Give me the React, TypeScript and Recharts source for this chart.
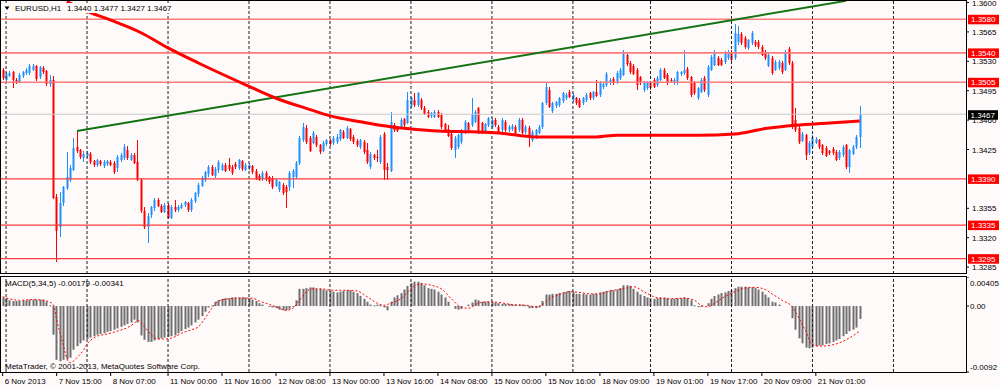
import React from "react";
import { ComposedChart, Bar, Line, XAxis, YAxis, ReferenceLine } from "recharts";

// Prices are in pips above 1.3000 (467 = 1.3467).
// Each row: [open, high, low, close, MACD histogram in units of 0.0001]
const nov06 = [[520, 522, 508, 510, 12]];
const nov07 = [
  [508, 517, 506, 515, 11], [513, 518, 511, 516, 8], [517, 519, 498, 507, 7], [508, 510, 503, 505, 7],
  [506, 516, 504, 514, 7], [512, 519, 510, 517, 8], [516, 522, 514, 520, 8], [516, 527, 514, 524, 9],
  [520, 527, 519, 525, 9], [524, 526, 507, 509, 9], [511, 525, 509, 523, 9], [522, 524, 515, 517, 9],
  [518, 520, 501, 503, 6], [503, 514, 499, 508, 1], [508, 512, 366, 368, -40], [368, 372, 291, 328, -75],
  [332, 374, 321, 361, -77], [361, 382, 358, 380, -75], [379, 422, 377, 392, -74], [389, 406, 386, 403, -72],
  [401, 439, 399, 427, -61], [428, 447, 421, 423, -56], [424, 426, 414, 416, -52], [415, 423, 410, 420, -48],
];
const nov08 = [
  [417, 423, 415, 421, -46], [420, 422, 408, 410, -44], [411, 413, 404, 406, -42], [406, 414, 404, 412, -40],
  [411, 413, 405, 407, -39], [405, 413, 403, 410, -38], [407, 413, 405, 411, -36], [410, 412, 405, 407, -35],
  [409, 411, 396, 398, -33], [403, 418, 398, 416, -31], [412, 421, 410, 418, -29], [415, 431, 412, 428, -27],
  [425, 429, 413, 415, -25], [413, 421, 411, 419, -23], [419, 421, 408, 410, -19], [410, 436, 387, 389, -23],
  [389, 391, 350, 352, -41], [352, 356, 330, 333, -47], [333, 350, 314, 346, -50], [346, 358, 344, 356, -50],
  [355, 367, 352, 365, -48], [365, 367, 356, 358, -46], [358, 360, 349, 351, -45], [351, 361, 349, 359, -44],
];
const nov11 = [
  [359, 361, 342, 344, -43], [344, 359, 342, 357, -42], [357, 365, 351, 353, -41], [353, 359, 351, 357, -38],
  [356, 361, 354, 359, -35], [358, 364, 356, 362, -32], [361, 363, 351, 353, -30], [353, 367, 351, 365, -27],
  [364, 375, 361, 373, -23], [372, 385, 369, 383, -19], [382, 393, 380, 391, -14], [389, 400, 386, 398, -8],
  [396, 406, 392, 404, -2], [404, 406, 393, 395, 1], [394, 404, 391, 402, 6], [400, 413, 397, 410, 8],
  [401, 409, 399, 407, 10], [407, 409, 398, 400, 11], [406, 415, 399, 401, 11], [404, 406, 395, 397, 12],
  [408, 410, 402, 404, 12], [403, 414, 401, 412, 12], [411, 413, 400, 402, 12], [401, 409, 399, 407, 12],
];
const nov12 = [
  [403, 409, 401, 407, 11], [405, 407, 396, 398, 9], [400, 402, 389, 391, 7], [394, 396, 387, 389, 4],
  [390, 399, 388, 397, 2], [397, 399, 388, 390, 0], [392, 394, 384, 386, -1], [391, 393, 378, 380, -2],
  [382, 391, 380, 389, -3], [377, 388, 375, 386, -5], [383, 385, 371, 373, -6], [380, 383, 355, 374, -6],
  [380, 399, 376, 397, -4], [392, 402, 379, 399, -1], [392, 411, 390, 409, 8], [409, 441, 407, 439, 24],
  [436, 456, 434, 452, 24], [451, 454, 432, 434, 25], [439, 441, 422, 424, 26], [433, 447, 431, 445, 26],
  [440, 442, 428, 430, 24], [430, 432, 420, 422, 24], [424, 435, 422, 433, 23], [431, 438, 429, 436, 22],
];
const nov13 = [
  [436, 438, 429, 431, 21], [433, 441, 430, 439, 20], [434, 443, 432, 440, 19], [437, 450, 435, 448, 20],
  [446, 448, 437, 439, 21], [439, 453, 437, 451, 22], [449, 451, 435, 437, 22], [440, 442, 432, 434, 20],
  [435, 437, 428, 430, 18], [428, 438, 426, 436, 14], [434, 436, 420, 422, 10], [424, 433, 408, 410, 6],
  [404, 422, 402, 420, 2], [418, 420, 412, 414, 1], [416, 424, 410, 415, 2], [410, 442, 408, 440, 1],
  [444, 446, 389, 401, -2], [404, 409, 389, 400, -6], [400, 470, 398, 458, 6], [454, 456, 446, 448, 12],
  [451, 453, 446, 448, 15], [451, 462, 449, 460, 18], [461, 463, 452, 454, 23], [457, 493, 455, 484, 28],
];
const nov14 = [
  [476, 488, 474, 486, 32], [484, 492, 476, 478, 34], [478, 494, 476, 492, 34], [484, 486, 472, 474, 32],
  [475, 477, 466, 468, 29], [470, 472, 462, 464, 25], [464, 470, 462, 468, 24], [464, 472, 462, 470, 23],
  [470, 472, 462, 464, 20], [466, 468, 450, 452, 16], [455, 457, 446, 448, 12], [450, 454, 440, 442, 6],
  [444, 446, 425, 427, 0], [425, 441, 415, 439, -4], [428, 444, 426, 442, -5], [434, 450, 432, 448, -4],
  [445, 460, 443, 458, 0], [456, 458, 446, 448, 2], [454, 486, 452, 466, 5], [458, 472, 456, 470, 9],
  [474, 476, 444, 446, 8], [456, 458, 443, 445, 6], [447, 457, 445, 455, 6], [454, 464, 452, 462, 6],
];
const nov15 = [
  [452, 462, 450, 460, 6], [460, 462, 452, 454, 5], [452, 454, 444, 446, 4], [448, 462, 446, 460, 3],
  [458, 460, 446, 448, 3], [448, 454, 446, 452, 3], [449, 455, 447, 453, 2], [452, 454, 443, 445, 2],
  [448, 462, 446, 460, 2], [460, 462, 443, 445, 2], [446, 454, 444, 452, 1], [451, 453, 428, 439, -3],
  [436, 448, 434, 446, -3], [440, 450, 438, 448, -3], [445, 454, 443, 452, -2], [451, 482, 449, 480, 7],
  [480, 504, 478, 499, 16], [496, 500, 474, 476, 16], [470, 482, 468, 480, 17], [476, 483, 474, 481, 17],
  [478, 488, 476, 486, 18], [482, 494, 480, 492, 19], [486, 492, 484, 490, 20], [494, 496, 486, 488, 21],
];
const nov18 = [
  [484, 492, 482, 490, 20], [486, 488, 478, 480, 17], [484, 486, 474, 476, 17], [480, 488, 478, 486, 17],
  [484, 492, 482, 490, 16], [492, 494, 484, 486, 16], [486, 495, 484, 493, 17], [494, 508, 487, 489, 17],
  [490, 506, 488, 504, 19], [499, 505, 497, 503, 20], [502, 517, 500, 515, 21], [504, 510, 502, 508, 22],
  [509, 511, 502, 504, 22], [505, 518, 503, 516, 23], [510, 522, 508, 520, 25], [514, 543, 512, 540, 29],
  [537, 539, 524, 526, 29], [528, 530, 515, 517, 28], [525, 527, 514, 516, 24], [520, 522, 496, 502, 20],
  [511, 513, 502, 504, 16], [496, 506, 494, 504, 14], [498, 507, 496, 505, 12],
];
const nov19 = [
  [504, 506, 496, 498, 11], [508, 510, 498, 500, 10], [502, 512, 500, 510, 11], [508, 522, 506, 520, 12],
  [520, 522, 509, 511, 12], [514, 516, 502, 504, 11], [508, 510, 505, 507, 10], [504, 510, 502, 508, 10],
  [504, 519, 502, 517, 11], [515, 519, 513, 517, 11], [516, 543, 514, 520, 12], [521, 523, 508, 510, 11],
  [511, 513, 488, 490, 8], [504, 506, 490, 492, 1], [486, 500, 484, 498, -1], [494, 510, 492, 508, -1],
  [510, 512, 494, 496, 0], [490, 526, 488, 523, 4], [520, 537, 518, 535, 10], [526, 543, 524, 541, 14],
  [534, 536, 524, 526, 16], [532, 534, 524, 526, 18], [529, 542, 527, 540, 19], [534, 543, 532, 541, 21],
];
const nov20 = [
  [541, 543, 530, 532, 22], [534, 575, 532, 564, 25], [552, 572, 550, 562, 27], [563, 565, 550, 552, 27],
  [558, 560, 545, 547, 27], [546, 557, 544, 555, 26], [552, 566, 550, 564, 26], [553, 555, 547, 549, 25],
  [553, 555, 545, 547, 23], [547, 549, 536, 538, 20], [541, 543, 532, 534, 16], [525, 540, 523, 538, 12],
  [534, 536, 514, 516, 6], [520, 531, 518, 529, 5], [522, 531, 520, 529, 2], [528, 530, 515, 517, 0],
  [520, 543, 518, 540, 0], [545, 547, 526, 528, 0], [528, 530, 450, 452, -17], [460, 475, 446, 448, -33],
  [451, 453, 432, 434, -45], [436, 446, 434, 444, -52], [442, 444, 413, 418, -58], [421, 435, 419, 433, -59],
];
const nov21 = [
  [428, 442, 426, 440, -58], [433, 440, 431, 438, -56], [436, 438, 426, 428, -55], [430, 432, 419, 421, -55],
  [427, 429, 416, 418, -53], [423, 425, 419, 421, -52], [426, 428, 419, 421, -50], [422, 424, 411, 413, -48],
  [415, 424, 413, 422, -46], [418, 430, 416, 428, -42], [430, 432, 402, 404, -39], [404, 426, 397, 424, -35],
  [420, 430, 418, 428, -33], [428, 442, 426, 440, -30], [440, 477, 427, 467, -18],
];

// Moving average (red thick line) read at bar indices: [bar, pips]
const maPoints = [
  [19, 601], [26, 588], [32, 579], [41, 564], [49, 546], [58, 528], [72, 502], [81, 486], [90, 474],
  [97, 465], [106, 458], [115, 452], [121, 449.5], [129, 447], [139, 446], [147, 444.7], [158, 440],
  [176, 440], [182, 442], [206, 442], [217, 443.5], [226, 450], [235, 454], [245, 456.6], [254, 459],
];
// MACD signal line: [bar, value in 0.0001]
const signalPoints = [
  [0, 13], [2, 10], [5, 8], [9, 9], [13, 7], [15, 2], [16, -19], [18, -55], [19, -73], [20, -79], [22, -72],
  [24, -61], [25, -53], [26, -48], [28, -42], [31, -39], [34, -35], [37, -30], [39, -24], [40, -20], [42, -29],
  [44, -40], [46, -46], [48, -46], [51, -43], [53, -38], [56, -33], [58, -29], [60, -17], [62, -3], [64, 7],
  [67, 10], [70, 11], [74, 11], [76, 7], [78, 4], [81, -1], [84, -6], [86, -3], [88, 8], [90, 20], [92, 24],
  [94, 24], [98, 22], [102, 22], [105, 21], [108, 13], [111, 4], [113, 1], [115, 4], [118, 10], [121, 24],
  [124, 31], [127, 29], [130, 24], [133, 10], [136, -2], [138, -3], [141, 4], [144, 6], [147, 5], [151, 2],
  [155, 1], [158, -1], [160, 2], [162, 10], [165, 16], [168, 20], [171, 19], [174, 17], [177, 17], [180, 21],
  [184, 24], [187, 27], [190, 20], [193, 13], [197, 10], [202, 11], [205, 8], [207, 1], [209, -1], [211, 4],
  [214, 13], [217, 20], [220, 25], [223, 26], [226, 23], [228, 17], [231, 8], [234, -1], [236, -17],
  [238, -35], [240, -54], [242, -56], [246, -54], [250, -47], [254, -35],
];

const trendline = [[22, 447], [250, 602]];
const priceAxisTicks = [600, 565, 530, 495, 460, 425, 390, 355, 320, 285];
const priceLevels = [580, 540, 505, 390, 335, 295];
const dayStartBars = [1, 25, 49, 73, 97, 121, 145, 169, 192, 216, 240, 264];
const timeTickBars = [0, 16, 32, 49, 65, 81, 97, 113, 129, 145, 161, 177, 193, 209, 225, 241];
const timeTickText = [
  "6 Nov 2013", "7 Nov 15:00", "8 Nov 07:00", "11 Nov 00:00", "11 Nov 16:00", "12 Nov 08:00",
  "13 Nov 00:00", "13 Nov 16:00", "14 Nov 08:00", "15 Nov 00:00", "15 Nov 16:00", "18 Nov 09:00",
  "19 Nov 01:00", "19 Nov 17:00", "20 Nov 09:00", "21 Nov 01:00",
];
const macdAxisValues = [0.00405, 0, -0.0092];
const macdAxisText = ["0.00405", "0.00", "-0.0092"];
const macdLegendValues = ["-0.00179", "-0.00341"];
const symbolName = "EURUSD,H1";
const copyright = "MetaTrader, \u00a9 2001-2013, MetaQuotes Software Corp.";

const emptySlotsRight = 31;

// ---------------------------------------------------------------------------
const BG = "#fffafa";
const FONT = "'Liberation Sans', Arial, sans-serif";
const FS = 8;
const BULL = "#1e90ff";
const BEAR = "#ff0000";

const P = (v: number) => Number((1.3 + v / 10000).toFixed(6));

const bars: number[][] = [nov06, nov07, nov08, nov11, nov12, nov13, nov14, nov15, nov18, nov19, nov20, nov21].flat();
const last = bars[bars.length - 1];
const currentPip = last[3];
const maMap = new Map(maPoints.map(([k, v]) => [k, v]));
const sigMap = new Map(signalPoints.map(([k, v]) => [k, v]));

const data: any[] = [];
for (let k = 0; k < bars.length + emptySlotsRight; k++) {
  const row: any = { k };
  const b = bars[k];
  if (b) {
    row.o = P(b[0]); row.h = P(b[1]); row.l = P(b[2]); row.c = P(b[3]);
    row.range = [row.l, row.h];
    row.macd = b[4] / 10000;
  }
  if (maMap.has(k)) row.ma = P(maMap.get(k) as number);
  if (sigMap.has(k)) row.signal = (sigMap.get(k) as number) / 10000;
  data.push(row);
}

const MAIN_H = 274;
const MACD_TOP = 277;
const MACD_PLOT_H = 95;
const AXIS_W = 34;
const mainDomain = [1.36 - (MAIN_H - 2.5) / 8400, 1.36 + 2.5 / 8400];

const Candle = (props: any) => {
  const { x, y, width, height, payload } = props;
  if (!payload || payload.o == null) return null;
  const { o, h, l, c } = payload;
  const top = Math.min(y, y + height);
  const hh = Math.abs(height);
  const span = h - l;
  const py = (p: number) => (span > 0 ? top + ((h - p) / span) * hh : top);
  const cx = x + width / 2;
  const col = c >= o ? BULL : BEAR;
  const yo = py(o);
  const yc = py(c);
  const bt = Math.round(Math.min(yo, yc));
  const bh = Math.max(1, Math.round(Math.abs(yc - yo)));
  const wx = Math.floor(cx) + 0.5;
  return (
    <g>
      <line x1={wx} x2={wx} y1={Math.round(top)} y2={Math.round(top + Math.max(hh, 1))} stroke={col} strokeWidth={1} />
      <rect x={Math.floor(cx) - 0.5} y={bt} width={2} height={bh} fill={col} />
    </g>
  );
};

const MacdBar = (props: any) => {
  const { x, y, width, height } = props;
  if (height == null || isNaN(y)) return null;
  const top = Math.min(y, y + height);
  const hh = Math.abs(height);
  if (hh < 0.3) return null;
  const cx = x + width / 2;
  return <rect x={Math.floor(cx) - 0.5} y={top} width={2} height={Math.max(1, hh)} fill="#6f6f6f" />;
};

const levelSet = new Set(priceLevels);

const PriceTick = (props: any) => {
  const { x, y, payload } = props;
  const v = Math.round((payload.value - 1.3) * 10000);
  const label = payload.value.toFixed(4);
  if (levelSet.has(v)) {
    return (
      <g>
        <rect x={x + 2} y={y - 4.5} width={31} height={9.5} fill="#ff0000" />
        <text x={x + 5} y={y + 3} fontSize={FS} fontFamily={FONT} fill="#ffffff">{label}</text>
      </g>
    );
  }
  if (v === currentPip) {
    return (
      <g>
        <rect x={x + 2} y={y - 4} width={30} height={9.5} fill="#000000" />
        <text x={x + 4.5} y={y + 3.5} fontSize={FS} fontFamily={FONT} fill="#ffffff">{label}</text>
      </g>
    );
  }
  return (
    <g>
      <line x1={x} x2={x + 3} y1={y} y2={y} stroke="#000" />
      <text x={x + 6} y={y + 3} fontSize={FS} fontFamily={FONT} fill="#000">{label}</text>
    </g>
  );
};

const MacdTick = (props: any) => {
  const { x, y, payload } = props;
  const i = macdAxisValues.indexOf(payload.value);
  const dy = y < 10 ? 6 : y > MACD_PLOT_H - 10 ? -5 : 0;
  return (
    <g>
      <line x1={x} x2={x + 3} y1={y} y2={y} stroke="#000" />
      <text x={x + 4} y={y + dy + 3} fontSize={FS} fontFamily={FONT} fill="#000">{macdAxisText[i]}</text>
    </g>
  );
};

const TimeTick = (props: any) => {
  const { x, y, payload } = props;
  const i = timeTickBars.indexOf(payload.value);
  return (
    <g>
      <line x1={x} x2={x} y1={y} y2={y + 4} stroke="#000" />
      <text x={x + 2} y={y + 12} fontSize={FS} fontFamily={FONT} fill="#000">{timeTickText[i]}</text>
    </g>
  );
};

const priceTicks = [
  ...priceAxisTicks.filter((v) => !levelSet.has(v)).map(P),
  P(currentPip),
  ...priceLevels.map(P),
];

export default function App() {
  return (
    <div style={{ position: "fixed", left: 0, top: 0, width: 1000, height: 388, background: BG, overflow: "hidden" }}>
      <div style={{ position: "absolute", left: 0, top: 0 }}>
        <ComposedChart width={1000} height={MAIN_H} data={data} margin={{ top: 0, right: 0, bottom: 0, left: 1 }} barCategoryGap={0}>
          <XAxis dataKey="k" type="category" hide />
          <YAxis
            orientation="right"
            width={AXIS_W}
            domain={mainDomain}
            allowDataOverflow
            ticks={priceTicks}
            interval={0}
            tick={<PriceTick />}
            axisLine={false}
            tickLine={false}
            tickSize={0}
            tickMargin={0}
          />
          {dayStartBars.map((k) => (
            <ReferenceLine key={"g" + k} x={k} stroke="#202020" strokeDasharray="3 2" />
          ))}
          <ReferenceLine y={P(currentPip)} stroke="#c8c8c8" strokeWidth={1} />
          {priceLevels.map((v) => (
            <ReferenceLine
              key={"l" + v}
              y={P(v)}
              stroke={v > currentPip ? "#ff7a7a" : "#ff3a3a"}
              strokeWidth={v > currentPip ? 1.6 : 1.2}
            />
          ))}
          <ReferenceLine
            segment={[
              { x: trendline[0][0], y: P(trendline[0][1]) },
              { x: trendline[1][0], y: P(trendline[1][1]) },
            ]}
            stroke="#137313"
            strokeWidth={2}
          />
          <Bar dataKey="range" barSize={2} shape={<Candle />} isAnimationActive={false} />
          <Line
            dataKey="ma"
            type="monotone"
            stroke="#ff0000"
            strokeWidth={3}
            dot={false}
            activeDot={false}
            connectNulls
            isAnimationActive={false}
          />
        </ComposedChart>
      </div>
      <div style={{ position: "absolute", left: 0, top: MACD_TOP }}>
        <ComposedChart width={1000} height={MACD_PLOT_H + 16} data={data} margin={{ top: 0, right: 0, bottom: 0, left: 1 }} barCategoryGap={0}>
          <XAxis
            dataKey="k"
            type="category"
            ticks={timeTickBars}
            interval={0}
            tick={<TimeTick />}
            axisLine={false}
            tickLine={false}
            tickSize={0}
            tickMargin={0}
            height={16}
          />
          <YAxis
            orientation="right"
            width={AXIS_W}
            domain={[-0.0092, 0.00405]}
            allowDataOverflow
            ticks={macdAxisValues}
            interval={0}
            tick={<MacdTick />}
            axisLine={false}
            tickLine={false}
            tickSize={0}
            tickMargin={0}
          />
          {dayStartBars.map((k) => (
            <ReferenceLine key={"mg" + k} x={k} stroke="#202020" strokeDasharray="3 2" />
          ))}
          <Bar dataKey="macd" barSize={2} shape={<MacdBar />} isAnimationActive={false} />
          <Line
            dataKey="signal"
            type="monotone"
            stroke="#ff0000"
            strokeWidth={1}
            strokeDasharray="2 2"
            dot={false}
            activeDot={false}
            connectNulls
            isAnimationActive={false}
          />
        </ComposedChart>
      </div>
      <svg
        width={1000}
        height={388}
        style={{ position: "absolute", left: 0, top: 0, pointerEvents: "none" }}
        fontFamily={FONT}
        fontSize={FS}
      >
        <rect x={0.5} y={0.5} width={966} height={MAIN_H - 1} fill="none" stroke="#000" />
        <rect x={0.5} y={MACD_TOP - 0.5} width={966} height={MACD_PLOT_H + 1} fill="none" stroke="#000" />
        <rect x={2} y={3} width={168} height={10} fill={BG} />
        <path d="M4.5 6.5 L9.5 6.5 L7 10 Z" fill="#000" />
        <text x={15} y={11} fill="#000">{symbolName}</text>
        <text x={67} y={11} fill="#000">
          {[last[0], last[1], last[2], last[3]].map((v) => P(v).toFixed(4)).join(" ")}
        </text>
        <text x={5} y={286} fill="#000">{`MACD(5,34,5) ${macdLegendValues.join(" ")}`}</text>
        <text x={5} y={369} fill="#000">{copyright}</text>
      </svg>
    </div>
  );
}
